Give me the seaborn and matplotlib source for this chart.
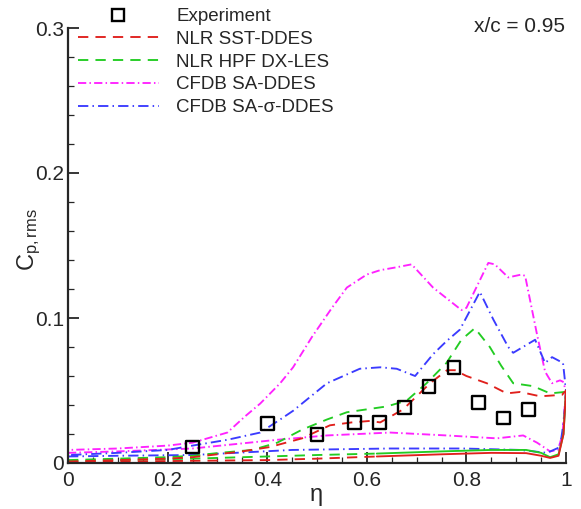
import numpy as np
import pandas as pd
import matplotlib
matplotlib.use('Agg')
import matplotlib.pyplot as plt
import seaborn as sns
from matplotlib.lines import Line2D
from matplotlib.ticker import MultipleLocator, FixedLocator

# ---------------- data ----------------
exp_x = [0.25, 0.40, 0.50, 0.575, 0.625, 0.675, 0.725, 0.775, 0.825, 0.875, 0.925]
exp_y = [0.011, 0.027, 0.0195, 0.028, 0.028, 0.038, 0.053, 0.066, 0.042, 0.031, 0.037]

# NLR SST-DDES (red)
sst_up_x = [0, 0.2, 0.25, 0.3, 0.35, 0.405, 0.47, 0.526, 0.57, 0.606, 0.627, 0.673, 0.727, 0.761,
            0.777, 0.80, 0.841, 0.881, 0.908, 0.948, 0.992, 1.0]
sst_up_y = [0.001, 0.003, 0.004, 0.006, 0.008, 0.011, 0.017, 0.026, 0.028, 0.029, 0.028, 0.037, 0.055,
            0.064, 0.064, 0.060, 0.055, 0.048, 0.049, 0.046, 0.047, 0.050]
sst_lo_x = [0, 0.1, 0.25, 0.4, 0.5, 0.62, 0.75, 0.85, 0.92, 0.95, 0.968, 0.985, 0.995, 1.0]
sst_lo_y = [0.0008, 0.001, 0.0015, 0.002, 0.003, 0.0045, 0.006, 0.007, 0.0068, 0.005, 0.0035, 0.005,
            0.02, 0.05]

# NLR HPF DX-LES (green)
hpf_up_x = [0, 0.2, 0.25, 0.305, 0.37, 0.42, 0.47, 0.52, 0.56, 0.6, 0.64, 0.68, 0.72, 0.76, 0.79,
            0.817, 0.847, 0.87, 0.894, 0.934, 0.968, 0.998, 1.0]
hpf_up_y = [0.002, 0.004, 0.005, 0.007, 0.009, 0.014, 0.023, 0.030, 0.035, 0.037, 0.039, 0.043, 0.055,
            0.069, 0.085, 0.093, 0.080, 0.067, 0.055, 0.053, 0.048, 0.049, 0.050]
hpf_lo_x = [0, 0.1, 0.25, 0.4, 0.5, 0.62, 0.75, 0.85, 0.92, 0.95, 0.968, 0.985, 0.995, 1.0]
hpf_lo_y = [0.0015, 0.002, 0.003, 0.0045, 0.0055, 0.0065, 0.008, 0.009, 0.009, 0.007, 0.004, 0.006,
            0.02, 0.05]

# CFDB SA-DDES (magenta)
sa_up_x = [0, 0.1, 0.2, 0.25, 0.32, 0.355, 0.386, 0.426, 0.452, 0.49, 0.53, 0.56, 0.6, 0.627, 0.66,
           0.69, 0.733, 0.79, 0.80, 0.844, 0.857, 0.884, 0.911, 0.918, 0.941, 0.958, 0.972, 0.988,
           0.994, 1.0]
sa_up_y = [0.009, 0.010, 0.012, 0.014, 0.021, 0.032, 0.041, 0.055, 0.066, 0.087, 0.107, 0.121, 0.130,
           0.133, 0.135, 0.137, 0.121, 0.1055, 0.107, 0.138, 0.137, 0.128, 0.130, 0.129, 0.090, 0.063,
           0.055, 0.057, 0.056, 0.050]
sa_lo_x = [0, 0.1, 0.25, 0.42, 0.52, 0.647, 0.76, 0.861, 0.914, 0.942, 0.968, 0.984, 0.993, 1.0]
sa_lo_y = [0.007, 0.008, 0.010, 0.016, 0.019, 0.021, 0.019, 0.017, 0.019, 0.014, 0.008, 0.009, 0.02,
           0.05]

# CFDB SA-sigma-DDES (blue)
sas_up_x = [0, 0.1, 0.2, 0.25, 0.32, 0.386, 0.426, 0.452, 0.52, 0.586, 0.627, 0.66, 0.697, 0.733,
            0.76, 0.787, 0.827, 0.854, 0.884, 0.894, 0.938, 0.958, 0.972, 0.994, 1.0]
sas_up_y = [0.0055, 0.007, 0.009, 0.012, 0.016, 0.021, 0.030, 0.036, 0.055, 0.065, 0.066, 0.065,
            0.060, 0.075, 0.084, 0.092, 0.118, 0.099, 0.080, 0.076, 0.085, 0.069, 0.073, 0.069, 0.050]
sas_lo_x = [0, 0.1, 0.25, 0.45, 0.647, 0.793, 0.908, 0.962, 0.988, 0.996, 1.0]
sas_lo_y = [0.0045, 0.005, 0.0055, 0.009, 0.010, 0.010, 0.009, 0.007, 0.011, 0.03, 0.05]

labels = ['Experiment', 'NLR SST-DDES', 'NLR HPF DX-LES', 'CFDB SA-DDES', 'CFDB SA-\u03c3-DDES']
x_ticks = [0, 0.2, 0.4, 0.6, 0.8, 1.0]
x_tick_labels = ['0', '0.2', '0.4', '0.6', '0.8', '1']
y_ticks = [0, 0.1, 0.2, 0.3]
y_tick_labels = ['0', '0.1', '0.2', '0.3']

# ---------------- style ----------------
sns.set_style('ticks')
plt.rcParams['font.family'] = ['Liberation Sans', 'DejaVu Sans']
plt.rcParams['mathtext.fontset'] = 'custom'
plt.rcParams['mathtext.rm'] = 'Liberation Sans'
plt.rcParams['mathtext.it'] = 'Liberation Sans:italic'

RED = '#e0201c'
GREEN = '#22cc22'
MAGENTA = '#ff22ff'
BLUE = '#3b3bff'
LW = 1.35
dash_ls = (0, (5.5, 3.8))
sa_ls = (0, (4.4, 1.7, 0.8, 1.7))
sas_ls = (0, (5.5, 2.2, 0.8, 2.2))

fig = plt.figure(figsize=(5.81, 5.09), dpi=100)
ax = fig.add_axes([68 / 581, 46 / 509, 498 / 581, 435 / 509])


def loop(xl, yl, xu, yu):
    return pd.DataFrame({'x': list(xl) + list(xu)[::-1], 'y': list(yl) + list(yu)[::-1]})


def line(df, color, ls):
    sns.lineplot(data=df, x='x', y='y', sort=False, estimator=None, color=color, lw=LW,
                 linestyle=ls, ax=ax, legend=False)


X_SOLID = 0.62
line(loop(sa_lo_x, sa_lo_y, sa_up_x, sa_up_y), MAGENTA, sa_ls)
line(loop(sas_lo_x, sas_lo_y, sas_up_x, sas_up_y), BLUE, sas_ls)
for lo_x, lo_y, up_x, up_y, col in [(hpf_lo_x, hpf_lo_y, hpf_up_x, hpf_up_y, GREEN),
                                     (sst_lo_x, sst_lo_y, sst_up_x, sst_up_y, RED)]:
    lx = np.array(lo_x); ly = np.array(lo_y)
    m_d = lx <= X_SOLID
    m_s = lx >= X_SOLID
    line(pd.DataFrame({'x': lx[m_d], 'y': ly[m_d]}), col, dash_ls)
    line(pd.DataFrame({'x': up_x, 'y': up_y}), col, dash_ls)
    line(pd.DataFrame({'x': list(lx[m_s]) + [up_x[-1]], 'y': list(ly[m_s]) + [up_y[-1]]}), col, '-')

sns.scatterplot(x=exp_x, y=exp_y, marker='s', s=85, facecolors='none', edgecolors='black',
                linewidths=1.7, ax=ax, zorder=5)

ax.set_xlim(0, 1)
ax.set_ylim(0, 0.3)
ax.xaxis.set_major_locator(FixedLocator(x_ticks))
ax.yaxis.set_major_locator(FixedLocator(y_ticks))
ax.set_xticklabels(x_tick_labels)
ax.set_yticklabels(y_tick_labels)
ax.xaxis.set_minor_locator(MultipleLocator(0.05))
ax.yaxis.set_minor_locator(MultipleLocator(0.02))
ax.tick_params(which='major', direction='in', length=8, width=1.3, labelsize=15)
ax.tick_params(axis='y', which='major', pad=3)
ax.tick_params(axis='x', which='major', pad=6)
ax.tick_params(which='minor', direction='in', length=4, width=0.9)
for s in ['top', 'right']:
    ax.spines[s].set_visible(False)
for s in ['left', 'bottom']:
    ax.spines[s].set_linewidth(1.6)
ax.set_xlabel('')
ax.set_ylabel('')
fig.text(316 / 581, 1 - 495 / 509, '\u03b7', ha='center', va='center', fontsize=17)
fig.text(29 / 581, 1 - 240 / 509, r'$\mathregular{C_{p,rms}}$', ha='center', va='center',
         rotation=90, fontsize=17)

fig.text(520 / 581, 1 - 27 / 509, 'x/c = 0.95', ha='center', va='center', fontsize=15)

handles = [Line2D([], [], marker='s', ls='none', markersize=9, markerfacecolor='none',
                  markeredgecolor='black', markeredgewidth=1.7),
           Line2D([], [], color=RED, lw=LW, ls=dash_ls),
           Line2D([], [], color=GREEN, lw=LW, ls=dash_ls),
           Line2D([], [], color=MAGENTA, lw=LW, ls=sa_ls),
           Line2D([], [], color=BLUE, lw=LW, ls=sas_ls)]
fig.legend(handles, labels, loc='upper left', bbox_to_anchor=(78 / 581, 1 - 8 / 509),
           frameon=False, fontsize=13.5, handlelength=4.3, handletextpad=0.95,
           labelspacing=0.3, borderpad=0, borderaxespad=0)

fig.savefig('out.png', dpi=100)
